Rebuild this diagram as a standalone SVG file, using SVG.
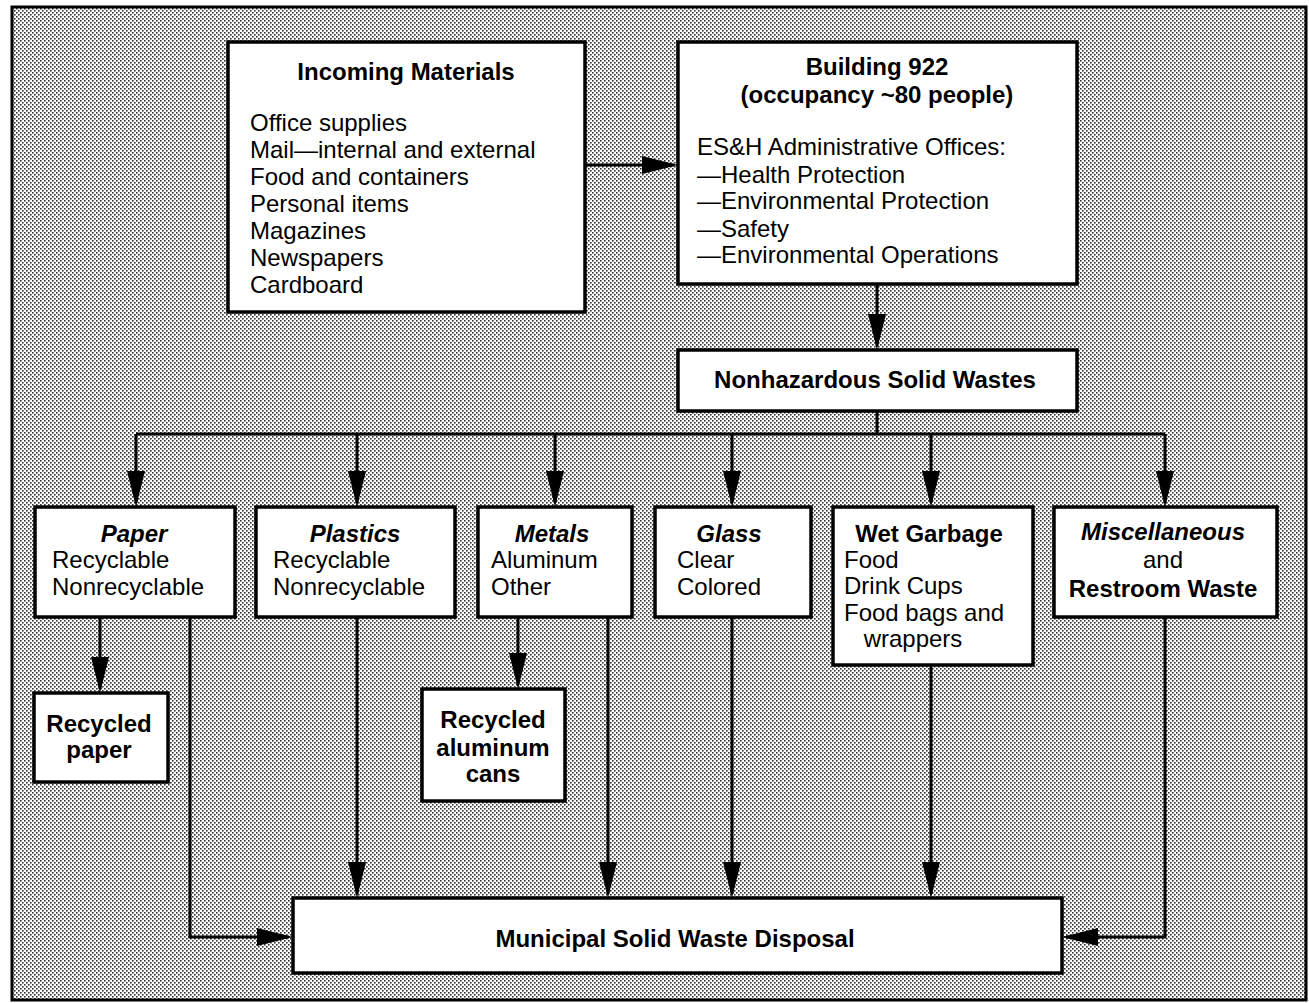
<svg xmlns="http://www.w3.org/2000/svg" width="1309" height="1003" viewBox="0 0 1309 1003">
<style>
  .box { fill: #ffffff; stroke: #000000; stroke-width: 3.5; }
  .conn { fill: none; stroke: #000000; stroke-width: 3; }
  text { font-family: "Liberation Sans", Arial, Helvetica, sans-serif; font-size: 24px; fill: #000000; }
  .b { font-weight: bold; }
  .bi { font-weight: bold; font-style: italic; }
  .c { text-anchor: middle; }
</style>
<defs>
  <pattern id="halftone" x="0" y="0" width="4" height="4" patternUnits="userSpaceOnUse">
    <rect x="0" y="0" width="4" height="4" fill="#ffffff"/>
    <rect x="0" y="0" width="1.6" height="1.6" fill="#333333"/>
    <rect x="2" y="2" width="1.6" height="1.6" fill="#333333"/>
  </pattern>
  <marker id="arrow" viewBox="0 0 36 18" refX="32" refY="9" markerWidth="36" markerHeight="18" markerUnits="userSpaceOnUse" orient="auto">
    <path d="M0,0 L36,9 L0,18 Z" fill="#000000"/>
  </marker>
</defs>
<rect x="0" y="0" width="1309" height="1003" fill="#ffffff"/>
<rect id="frame" x="12" y="7" width="1294" height="993" fill="url(#halftone)" stroke="#000000" stroke-width="3"/>

<g id="connectors">
  <path class="conn" d="M585,165 H674" marker-end="url(#arrow)"/>
  <path class="conn" d="M877,284 V346" marker-end="url(#arrow)"/>
  <path class="conn" d="M877,411 V434"/>
  <path class="conn" d="M136,434 H1165"/>
  <path class="conn" d="M136,434 V503" marker-end="url(#arrow)"/>
  <path class="conn" d="M357,434 V503" marker-end="url(#arrow)"/>
  <path class="conn" d="M555,434 V503" marker-end="url(#arrow)"/>
  <path class="conn" d="M732,434 V503" marker-end="url(#arrow)"/>
  <path class="conn" d="M931,434 V503" marker-end="url(#arrow)"/>
  <path class="conn" d="M1165,434 V503" marker-end="url(#arrow)"/>
  <path class="conn" d="M100,617 V689" marker-end="url(#arrow)"/>
  <path class="conn" d="M518,617 V685" marker-end="url(#arrow)"/>
  <path class="conn" d="M190,617 V937 H289" marker-end="url(#arrow)"/>
  <path class="conn" d="M357,617 V894" marker-end="url(#arrow)"/>
  <path class="conn" d="M608,617 V894" marker-end="url(#arrow)"/>
  <path class="conn" d="M732,617 V894" marker-end="url(#arrow)"/>
  <path class="conn" d="M931,665 V894" marker-end="url(#arrow)"/>
  <path class="conn" d="M1165,617 V937 H1066" marker-end="url(#arrow)"/>
</g>

<g id="incoming">
  <rect class="box" x="228" y="42" width="357" height="270"/>
  <text class="b c" x="406" y="80">Incoming Materials</text>
  <text x="250" y="131">Office supplies</text>
  <text x="250" y="158">Mail—internal and external</text>
  <text x="250" y="185">Food and containers</text>
  <text x="250" y="212">Personal items</text>
  <text x="250" y="239">Magazines</text>
  <text x="250" y="266">Newspapers</text>
  <text x="250" y="293">Cardboard</text>
</g>

<g id="building">
  <rect class="box" x="678" y="42" width="399" height="242"/>
  <text class="b c" x="877" y="75">Building 922</text>
  <text class="b c" x="877" y="103">(occupancy ~80 people)</text>
  <text x="697" y="155">ES&amp;H Administrative Offices:</text>
  <text x="697" y="183">—Health Protection</text>
  <text x="697" y="209">—Environmental Protection</text>
  <text x="697" y="237">—Safety</text>
  <text x="697" y="263">—Environmental Operations</text>
</g>

<g id="nonhazardous">
  <rect class="box" x="678" y="350" width="399" height="61"/>
  <text class="b c" x="875" y="388">Nonhazardous Solid Wastes</text>
</g>

<g id="paper">
  <rect class="box" x="35" y="507" width="200" height="110"/>
  <text class="bi c" x="134" y="542">Paper</text>
  <text x="52" y="568">Recyclable</text>
  <text x="52" y="595">Nonrecyclable</text>
</g>

<g id="plastics">
  <rect class="box" x="256" y="507" width="199" height="110"/>
  <text class="bi c" x="355" y="542">Plastics</text>
  <text x="273" y="568">Recyclable</text>
  <text x="273" y="595">Nonrecyclable</text>
</g>

<g id="metals">
  <rect class="box" x="478" y="507" width="154" height="110"/>
  <text class="bi c" x="552" y="542">Metals</text>
  <text x="491" y="568">Aluminum</text>
  <text x="491" y="595">Other</text>
</g>

<g id="glass">
  <rect class="box" x="655" y="507" width="156" height="110"/>
  <text class="bi c" x="729" y="542">Glass</text>
  <text x="677" y="568">Clear</text>
  <text x="677" y="595">Colored</text>
</g>

<g id="wet-garbage">
  <rect class="box" x="833" y="507" width="200" height="158"/>
  <text class="b c" x="929" y="542">Wet Garbage</text>
  <text x="844" y="568">Food</text>
  <text x="844" y="594">Drink Cups</text>
  <text x="844" y="621">Food bags and</text>
  <text class="c" x="913" y="647">wrappers</text>
</g>

<g id="miscellaneous">
  <rect class="box" x="1054" y="507" width="223" height="110"/>
  <text class="bi c" x="1163" y="540">Miscellaneous</text>
  <text class="c" x="1163" y="568">and</text>
  <text class="b c" x="1163" y="597">Restroom Waste</text>
</g>

<g id="recycled-paper">
  <rect class="box" x="34" y="693" width="134" height="89"/>
  <text class="b c" x="99" y="732">Recycled</text>
  <text class="b c" x="99" y="758">paper</text>
</g>

<g id="recycled-aluminum">
  <rect class="box" x="422" y="689" width="143" height="112"/>
  <text class="b c" x="493" y="728">Recycled</text>
  <text class="b c" x="493" y="756">aluminum</text>
  <text class="b c" x="493" y="782">cans</text>
</g>

<g id="disposal">
  <rect class="box" x="293" y="898" width="769" height="75"/>
  <text class="b c" x="675" y="947">Municipal Solid Waste Disposal</text>
</g>
</svg>
